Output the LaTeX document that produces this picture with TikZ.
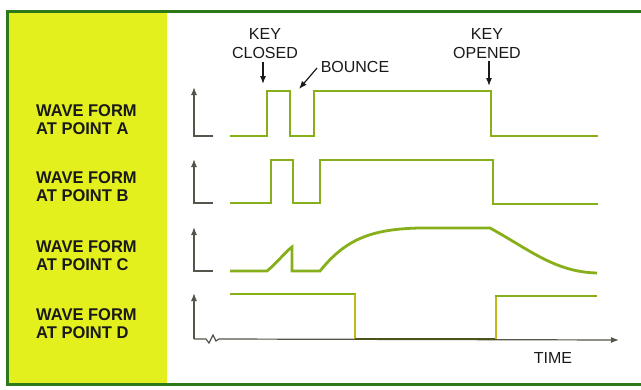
\documentclass[tikz,border=0pt]{standalone}
\usepackage{fontspec}
\setmainfont{Liberation Sans}
\usetikzlibrary{arrows.meta}
\definecolor{panelyellow}{RGB}{228,240,30}
\definecolor{framegreen}{RGB}{45,120,25}
\definecolor{wavegreen}{RGB}{135,175,25}
\definecolor{axisgray}{RGB}{85,85,75}
\definecolor{inkblack}{RGB}{25,25,25}
\definecolor{dlow}{RGB}{75,85,25}
\definecolor{dedge}{RGB}{195,185,20}
\begin{document}
\begin{tikzpicture}[x=1pt,y=-1pt,
  wave/.style={wavegreen, line width=2.8pt, line join=miter},
  axisline/.style={axisgray, line width=1.2pt},
  axisarrow/.style={axisline, -{Latex[length=8pt,width=6pt]}},
  lbl/.style={inkblack, font=\fontsize{17}{18}\selectfont\bfseries, align=left, anchor=west, inner sep=0pt},
  note/.style={inkblack, font=\fontsize{16}{19}\selectfont, align=center, inner sep=0pt},
  pointer/.style={inkblack, line width=1.2pt, -{Latex[length=8pt,width=6pt]}}]

\useasboundingbox (0,0) rectangle (641,389);
\fill[white] (0,0) rectangle (641,389);
\fill[panelyellow] (7,11) rectangle (167,384);
\draw[framegreen, line width=3pt] (645,11) -- (7,11) -- (7,384) -- (645,384);

% labels
\node[lbl] (la) at (36,119.3) {\scalebox{0.97}[1]{WAVE FORM}\\\scalebox{0.97}[1]{AT POINT A}};
\node[lbl] (lb) at (36,187) {\scalebox{0.97}[1]{WAVE FORM}\\\scalebox{0.97}[1]{AT POINT B}};
\node[lbl] (lc) at (36,256) {\scalebox{0.97}[1]{WAVE FORM}\\\scalebox{0.97}[1]{AT POINT C}};
\node[lbl] (ld) at (36,324) {\scalebox{0.97}[1]{WAVE FORM}\\\scalebox{0.97}[1]{AT POINT D}};

% notes
\node[note] (kc) at (265,43.5) {KEY\\CLOSED};
\node[note] (bo) at (355,66.5) {BOUNCE};
\node[note] (ko) at (487,43.5) {KEY\\OPENED};
\node[note] (ti) at (553,358) {TIME};

\coordinate (kcs) at (263,62);
\coordinate (kce) at (263,84);
\coordinate (bos) at (317,68);
\coordinate (boe) at (299,89);
\coordinate (kos) at (489,61);
\coordinate (koe) at (489,86);
\draw[pointer] (kcs) -- (kce);
\draw[pointer] (bos) -- (boe);
\draw[pointer] (kos) -- (koe);

% axes
\coordinate (oa) at (194,136);
\coordinate (ob) at (194,203);
\coordinate (oc) at (194,271);
\coordinate (od) at (194,339);
\draw[axisarrow] (213,136) -- (oa) -- (194,87);
\draw[axisarrow] (213,203) -- (ob) -- (194,159);
\draw[axisarrow] (213,271) -- (oc) -- (194,227);
\draw[axisarrow] (od) -- (194,293);
\draw[axisarrow] (od) -- (206,339) -- (209,343) -- (213,335) -- (216,341) -- (219,339) -- (619,340);

% waveforms
\draw[wave] (230,136) -| (267,91) -| (290,136) -| (314,91) -| (491,136) -- (598,136);
\draw[wave] (230,203) -| (271,160) -| (293,203) -| (320,160) -| (493,204) -- (598,204);
\draw[wave] (230,271) -- (267,271) .. controls (278,262) and (285,252) .. (292,247) -- (292,271) -- (320,271)
  .. controls (345,240) and (370,229) .. (420,228) -- (490,228) .. controls (530,250) and (555,272) .. (597,273);
\draw[wave] (230,294) -- (356,294);
\draw[wave, dedge] (355,294) -- (355,339);
\draw[wave, dlow, line width=2pt] (355,339) -- (496,339);
\draw[wave, dedge] (496,339) -- (496,296);
\draw[wave] (495,296) -- (597,296);
\end{tikzpicture}
\end{document}
